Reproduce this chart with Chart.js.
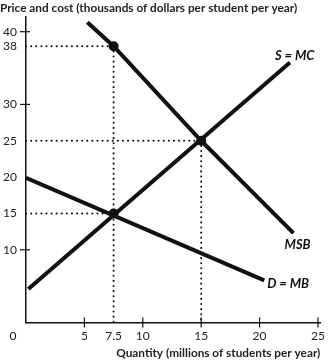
<!DOCTYPE html>
<html lang="en">
<head>
<meta charset="UTF-8" />
<title>Social optimum</title>
<script src="https://cdn.jsdelivr.net/npm/chart.js"></script>
<style>
  html, body { margin: 0; padding: 0; background: #fff; }
  #wrap { width: 331px; height: 360px; }
</style>
</head>
<body>
<div id="wrap"><canvas id="chart" width="331" height="360"></canvas></div>
<script>
  // curve points (quantity, price)
  const msbQ = [5.25, 7.5, 15, 22.9];
  const msbP = [41.3, 38, 25, 12.3];
  const mcQ = [0.2, 22.6];
  const mcP = [4.6, 35.75];
  const mbQ = [0, 20.4];
  const mbP = [19.9, 5.8];

  // marked points
  const eqQ = [7.5, 15, 7.5];
  const eqP = [38, 25, 15];

  // axis ticks
  const xTicks = [5, 7.5, 10, 15, 20, 25];
  const xMarks = [5, 10, 15, 20, 25];
  const yTicks = [10, 15, 20, 25, 30, 38, 40];
  const yMarks = [10, 30, 40];

  const FONT = 'Lato, "Open Sans", sans-serif';

  const pts = (xs, ys) => xs.map((x, i) => ({ x: x, y: ys[i] }));

  const thick = { showLine: true, borderColor: '#111', borderWidth: 4, pointRadius: 0, borderCapStyle: 'butt' };
  const dotted = { showLine: true, borderColor: '#111', borderWidth: 2, pointRadius: 0,
                   borderDash: [0.1, 5], borderCapStyle: 'round' };

  // dotted guides from each marked point to the axes
  const guides = [];
  eqQ.forEach((q, i) => {
    guides.push({ ...dotted, data: [{ x: 0, y: eqP[i] }, { x: q, y: eqP[i] }] });
    if (i < 2) guides.push({ ...dotted, data: [{ x: q, y: eqP[i] }, { x: q, y: 0 }] });
  });

  const last = (qs, ps, chart) => ({
    px: chart.scales.x.getPixelForValue(qs[qs.length - 1]),
    py: chart.scales.y.getPixelForValue(ps[ps.length - 1])
  });

  const extras = {
    id: 'extras',
    afterDraw(chart) {
      const { ctx, scales: { x, y } } = chart;
      ctx.save();
      ctx.strokeStyle = '#111';
      ctx.lineWidth = 1.2;
      yMarks.forEach(v => {
        const py = y.getPixelForValue(v);
        ctx.beginPath(); ctx.moveTo(x.left - 6, py); ctx.lineTo(x.left + 4, py); ctx.stroke();
      });
      xMarks.forEach(v => {
        const px = x.getPixelForValue(v);
        ctx.beginPath(); ctx.moveTo(px, y.bottom - 5); ctx.lineTo(px, y.bottom + 5); ctx.stroke();
      });
      ctx.fillStyle = '#111';
      ctx.font = '12px ' + FONT;
      ctx.textAlign = 'center';
      ctx.textBaseline = 'middle';
      ctx.fillText('0', x.getPixelForValue(0) - 13, 336);

      ctx.font = 'italic bold 13px ' + FONT;
      ctx.textAlign = 'left';
      let e = last(mcQ, mcP, chart);
      ctx.fillText('S = MC', e.px - 15, e.py - 7);
      e = last(msbQ, msbP, chart);
      ctx.fillText('MSB', e.px - 9, e.py + 12);
      e = last(mbQ, mbP, chart);
      ctx.fillText('D = MB', e.px + 3, e.py + 3);
      ctx.restore();
    }
  };

  new Chart(document.getElementById('chart'), {
    type: 'scatter',
    data: {
      datasets: [
        ...guides,
        { ...thick, data: pts(msbQ, msbP) },
        { ...thick, data: pts(mcQ, mcP) },
        { ...thick, data: pts(mbQ, mbP) },
        { data: pts(eqQ, eqP), pointRadius: 5, pointBackgroundColor: '#111', pointBorderWidth: 0 }
      ]
    },
    options: {
      responsive: false,
      animation: false,
      layout: { padding: { top: 1, right: 8, left: 0, bottom: 0 } },
      plugins: {
        legend: { display: false },
        tooltip: { enabled: false },
        title: {
          display: true,
          align: 'start',
          text: 'Price and cost (thousands of dollars per student per year)',
          color: '#222',
          font: { family: FONT, size: 11.8, weight: 'bold' },
          padding: { top: 0, bottom: 2 }
        }
      },
      scales: {
        x: {
          type: 'linear', min: 0, max: 25.2,
          afterBuildTicks: s => { s.ticks = xTicks.map(v => ({ value: v })); },
          afterFit: s => { s.height = 37.5; },
          grid: { display: false, drawTicks: false },
          border: { display: true, color: '#111', width: 1.5 },
          ticks: { color: '#222', padding: 6, maxRotation: 0, autoSkip: false,
                   font: { family: FONT, size: 12 } },
          title: { display: true, align: 'end', text: 'Quantity (millions of students per year)',
                   color: '#222', font: { family: FONT, size: 11.8, weight: 'bold' },
                   padding: { top: 0, bottom: 0 } }
        },
        y: {
          type: 'linear', min: 0, max: 42,
          afterBuildTicks: s => { s.ticks = yTicks.map(v => ({ value: v })); },
          afterFit: s => { s.width = 26; },
          grid: { display: false, drawTicks: false },
          border: { display: true, color: '#111', width: 1.5 },
          ticks: { color: '#222', padding: 9, autoSkip: false,
                   font: { family: FONT, size: 12 } }
        }
      }
    },
    plugins: [extras]
  });
</script>
</body>
</html>
